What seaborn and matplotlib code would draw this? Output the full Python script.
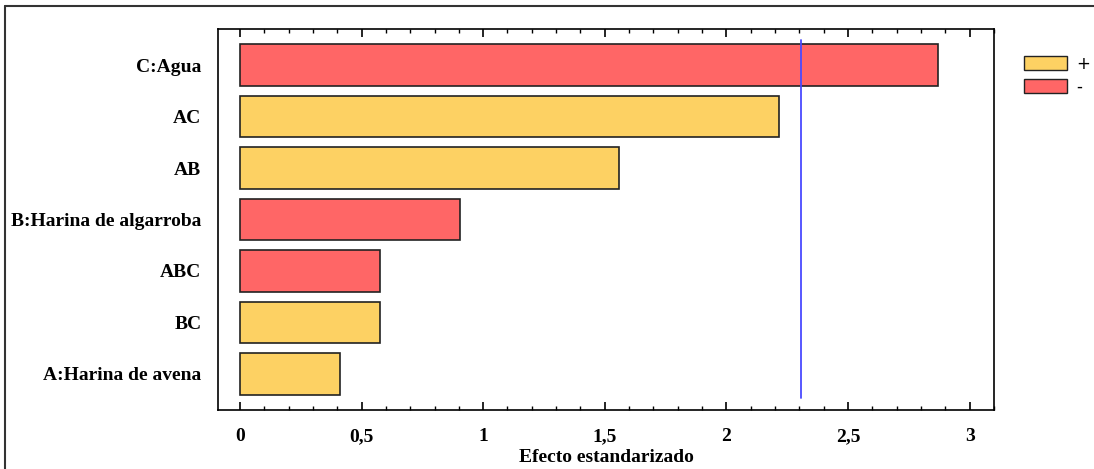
import numpy as np
import pandas as pd
import matplotlib
matplotlib.use('Agg')
import matplotlib.pyplot as plt
from matplotlib.patches import Patch
from matplotlib.lines import Line2D
from matplotlib.ticker import MultipleLocator, FuncFormatter
import seaborn as sns

# Datos del diagrama de Pareto
efectos = ['C:Agua', 'AC', 'AB', 'B:Harina de algarroba', 'ABC', 'BC', 'A:Harina de avena']
valores = [2.87, 2.217, 1.56, 0.906, 0.578, 0.578, 0.41]
signos = ['-', '+', '+', '-', '-', '+', '+']
limite = 2.306

df = pd.DataFrame({'efecto': efectos, 'valor': valores, 'signo': signos})

sns.set_style('white')
plt.rcParams['font.family'] = ['Liberation Serif', 'DejaVu Serif']
plt.rcParams['font.weight'] = 'bold'
plt.rcParams['text.color'] = 'black'
plt.rcParams['xtick.color'] = 'black'
plt.rcParams['ytick.color'] = 'black'
plt.rcParams['axes.labelcolor'] = 'black'

colores = {'+': '#FDD163', '-': '#FF6666'}
fs = 14

fig = plt.figure(figsize=(10.94, 4.69), dpi=100)
ax = fig.add_axes([218 / 1094, 1 - 410 / 469, (994 - 218) / 1094, (410 - 29) / 469])

sns.barplot(data=df, x='valor', y='efecto', hue='signo', hue_order=['+', '-'],
            palette=colores, order=efectos, orient='h', dodge=False, width=0.8,
            saturation=1, edgecolor='#222222', linewidth=1.2, legend=False, ax=ax)

# Linea de referencia
ax.axvline(limite, ymin=0.031, ymax=0.971, color='#4a4aff', lw=1.3)

ax.set_xlim(-0.09, 3.1)
ax.set_ylim(6.7, -0.7)
ax.xaxis.set_major_locator(MultipleLocator(0.5))
ax.xaxis.set_minor_locator(MultipleLocator(0.1))
ax.xaxis.set_major_formatter(FuncFormatter(lambda v, p: ('%g' % v).replace('.', ',')))
ax.tick_params(axis='x', which='both', direction='in', top=True, bottom=True,
               labelsize=fs, pad=13, color='black')
ax.tick_params(axis='x', which='major', length=6, width=1.2)
ax.tick_params(axis='x', which='minor', length=3, width=1)
ax.tick_params(axis='y', length=0, labelsize=fs, pad=12)
for lab in ax.get_xticklabels() + ax.get_yticklabels():
    lab.set_fontweight('bold')
ax.set_ylabel('')
ax.set_xlabel('Efecto estandarizado', fontsize=fs, fontweight='bold', labelpad=3)
for s in ax.spines.values():
    s.set_color('black')
    s.set_linewidth(1.2)

# Leyenda
handles = [Patch(facecolor=colores['+'], edgecolor='#222222', label='+'),
           Patch(facecolor=colores['-'], edgecolor='#222222', label='-')]
fig.legend(handles=handles, loc='upper left', bbox_to_anchor=(1009 / 1094, 1 - 40 / 469),
           frameon=False, prop={'family': 'DejaVu Sans', 'weight': 'normal', 'size': 12},
           handlelength=2.6, handleheight=0.95, handletextpad=0.55,
           labelspacing=0.3, borderpad=0.4)

# Marco exterior
fig.add_artist(Line2D([5 / 1094, 1], [1 - 6 / 469, 1 - 6 / 469], color='#333333', lw=1.5))
fig.add_artist(Line2D([5 / 1094, 5 / 1094], [0, 1 - 6 / 469], color='#333333', lw=1.5))

fig.savefig('out.png', dpi=100)
